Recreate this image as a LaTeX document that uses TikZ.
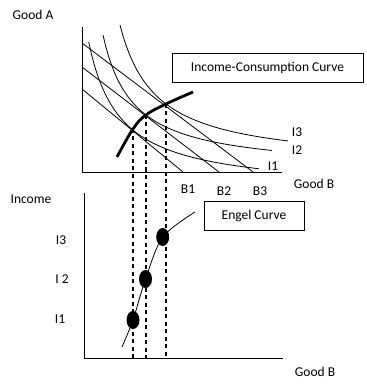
\documentclass[tikz,border=0pt]{standalone}
\usepackage{fontspec}
\setmainfont{Carlito}
\usetikzlibrary{positioning,calc,shapes.geometric}
\tikzset{every picture/.style={line width=0.8pt}}
\tikzset{
  boxlabel/.style={draw, rectangle, inner sep=0pt},
  dot/.style={ellipse, fill=black, inner sep=0pt, minimum width=13pt, minimum height=18pt},
  drop/.style={dashed, dash pattern=on 4pt off 3.5pt, line width=1.2pt}
}

\begin{document}
\begin{tikzpicture}[x=1pt, y=-1pt, font=\fontsize{13.5}{15}\selectfont]
    \useasboundingbox (0,0) rectangle (366,387);

    % upper axes
    \coordinate (Atop) at (82,27);
    \coordinate (Aorig) at (82,172);
    \coordinate (Aend) at (282,172);
    \draw (Atop) -- (Aorig) -- (Aend);
    \node (goodA) at (33,15) {Good A};
    \node (goodBup) at (314,184) {Good B};

    % budget lines
    \coordinate (L1s) at (82,89);  \coordinate (L1e) at (183,172);
    \coordinate (L2s) at (82,67);  \coordinate (L2e) at (219,172);
    \coordinate (L3s) at (82,43);  \coordinate (L3e) at (253,172);
    \draw (L1s) -- (L1e);
    \draw (L2s) -- (L2e);
    \draw (L3s) -- (L3e);
    \node (b1) at (188,189) {B1};
    \node (b2) at (224,191) {B2};
    \node (b3) at (260,191) {B3};

    % indifference curves
    \draw plot[domain=88.7:259, samples=60] (\x, {191.9 - 4662/(\x-57.6)});
    \draw plot[domain=103:272, samples=60] (\x, {171 - 4093/(\x-72.9)});
    \draw plot[domain=120:288, samples=60] (\x, {165.8 - 5070/(\x-84)});
    \node (i1) at (273,166) {I1};
    \node (i2) at (297,150) {I2};
    \node (i3) at (297,132) {I3};

    % income-consumption curve
    \coordinate (t1) at (133,129);
    \coordinate (t2) at (146,115);
    \coordinate (t3) at (166,104);
    \draw[line width=2.8pt] plot[smooth, tension=0.7] coordinates {(117,157) (t1) (t2) (t3) (193,92)};
    \node[boxlabel, minimum width=191pt, minimum height=29pt] (icc) at (267.5,67.5) {Income-Consumption Curve};

    % lower axes
    \coordinate (Btop) at (84,193);
    \coordinate (Borig) at (84,358);
    \coordinate (Bend) at (283,358);
    \draw (Btop) -- (Borig) -- (Bend);
    \node (income) at (31,199) {Income};
    \node (goodBlow) at (315,372) {Good B};
    \node (n3) at (61,240) {I3};
    \node (n2) at (62,279) {I 2};
    \node (n1) at (60,319) {I1};

    % drop lines
    \coordinate (d1) at (133,358);
    \coordinate (d2) at (146,358);
    \coordinate (d3) at (166,358);
    \draw[drop] (t1) -- (d1);
    \draw[drop] (t2) -- (d2);
    \draw[drop] (t3) -- (d3);

    % engel curve
    \coordinate (e0) at (122,347);
    \coordinate (c1) at (133,320);
    \coordinate (c2) at (145.5,279);
    \coordinate (c3) at (162.7,237);
    \coordinate (e4) at (195,212);
    \draw plot[smooth, tension=0.5] coordinates {(e0) (c1) (c2) (c3) (e4)};
    \node[dot] (e1) at (c1) {};
    \node[dot] (e2) at (c2) {};
    \node[dot] (e3) at (c3) {};
    \node[boxlabel, minimum width=100pt, minimum height=29pt] (engel) at (254,215.5) {Engel Curve};
\end{tikzpicture}
\end{document}
